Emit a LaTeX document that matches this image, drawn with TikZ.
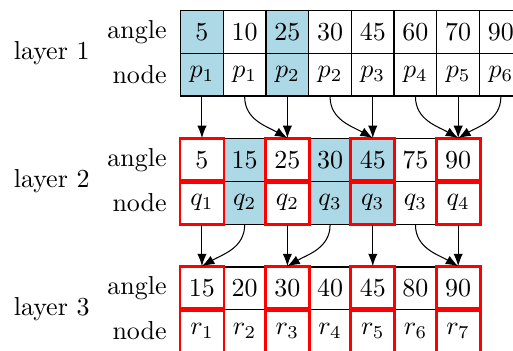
\documentclass[tikz,border=0pt]{standalone}
\usetikzlibrary{arrows.meta}
\definecolor{lightblue}{RGB}{173,216,230}
\tikzset{
  cell/.style={draw, line width=0.5pt, minimum size=0.578cm, inner sep=0pt},
  hit/.style={fill=lightblue},
  nohit/.style={},
  redbox/.style={draw=red, line width=1.1pt},
  lbl/.style={anchor=east, inner sep=0pt},
}
\begin{document}
\begin{tikzpicture}[>=Latex, x=0.578cm, y=0.578cm]
\useasboundingbox (-4.23,0.25) rectangle (7.784,-7.947);

% --- Layer 1 ---
\foreach \a/\n/\s [count=\i from 0] in {5/p_1/hit, 10/p_1/nohit, 25/p_2/hit, 30/p_2/nohit, 45/p_3/nohit, 60/p_4/nohit, 70/p_5/nohit, 90/p_6/nohit} {
  \node[cell,\s] (a1-\i) at (\i+0.5,-0.5) {\a};
  \node[cell,\s] (n1-\i) at (\i+0.5,-1.5) {$\n$};
}
\node[lbl] (ang1) at (-0.316,-0.5) {angle};
\node[lbl] (nod1) at (-0.316,-1.5) {node};
\node[lbl] (lay1) at (-2.12,-1) {layer 1};

% --- Layer 2 ---
\foreach \a/\n/\s [count=\i from 0] in {5/q_1/nohit, 15/q_2/hit, 25/q_2/nohit, 30/q_3/hit, 45/q_3/hit, 75/q_3/nohit, 90/q_4/nohit} {
  \node[cell,\s] (a2-\i) at (\i+0.5,-3.5) {\a};
  \node[cell,\s] (n2-\i) at (\i+0.5,-4.5) {$\n$};
}
\foreach \i in {0,2,4,6} {
  \draw[redbox] (a2-\i.north west) rectangle (a2-\i.south east);
  \draw[redbox] (n2-\i.north west) rectangle (n2-\i.south east);
}
\node[lbl] (ang2) at (-0.316,-3.5) {angle};
\node[lbl] (nod2) at (-0.316,-4.5) {node};
\node[lbl] (lay2) at (-2.12,-4) {layer 2};

% --- Layer 3 ---
\foreach \a/\n [count=\i from 0] in {15/r_1, 20/r_2, 30/r_3, 40/r_4, 45/r_5, 80/r_6, 90/r_7} {
  \node[cell] (a3-\i) at (\i+0.5,-6.5) {\a};
  \node[cell] (n3-\i) at (\i+0.5,-7.5) {$\n$};
}
\foreach \i in {0,2,4,6} {
  \draw[redbox] (a3-\i.north west) rectangle (a3-\i.south east);
  \draw[redbox] (n3-\i.north west) rectangle (n3-\i.south east);
}
\node[lbl] (ang3) at (-0.316,-6.5) {angle};
\node[lbl] (nod3) at (-0.316,-7.5) {node};
\node[lbl] (lay3) at (-2.12,-7) {layer 3};

% links 1 -> 2
\foreach \i in {0,2,4,6}
  \draw[->] (n1-\i.south) -- (a2-\i.north);
\foreach \i/\j/\e in {1/2/150, 3/4/150, 5/6/150, 7/6/30}
  \draw[->] (n1-\i.south) to[out=-90, in=\e] (a2-\j.north);

% links 2 -> 3
\foreach \i in {0,2,4,6}
  \draw[->] (n2-\i.south) -- (a3-\i.north);
\foreach \i/\j/\e in {1/0/30, 3/2/30, 5/6/150}
  \draw[->] (n2-\i.south) to[out=-90, in=\e] (a3-\j.north);

\end{tikzpicture}
\end{document}
